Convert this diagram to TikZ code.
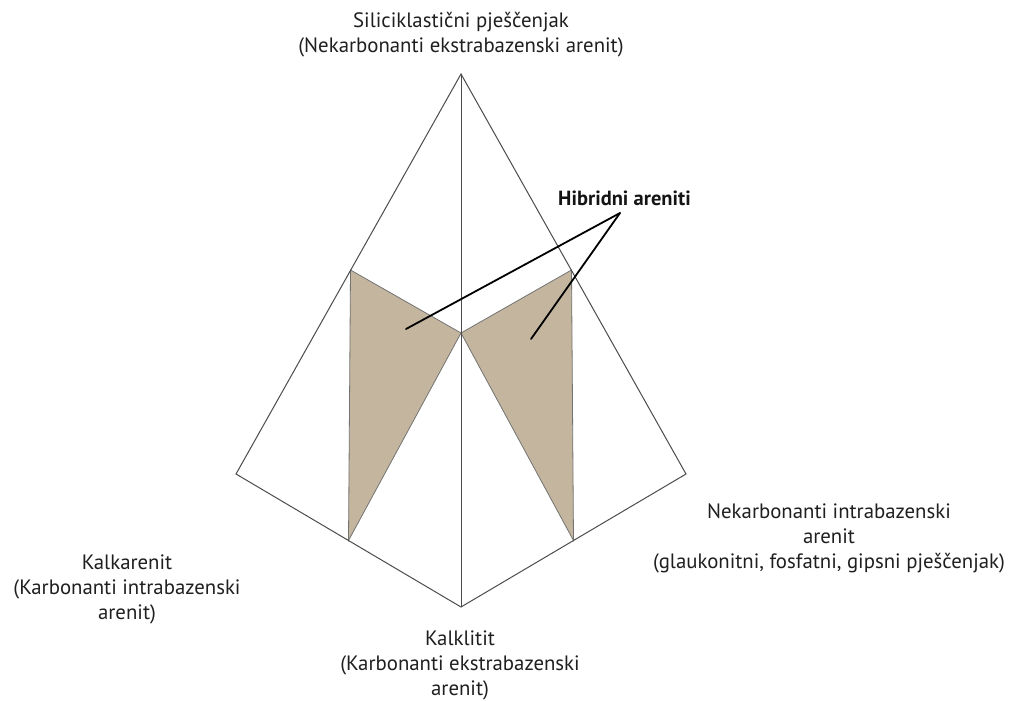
\documentclass[tikz,border=0pt]{standalone}
\usepackage{fontspec}
\setmainfont{PT Sans}
\definecolor{tanfill}{RGB}{196,182,158}
\begin{document}
\begin{tikzpicture}[x=1pt,y=-1pt,
  edge/.style={draw=black!70, line width=1pt},
  shadearea/.style={fill=tanfill, draw=black!55, line width=0.8pt},
  leader/.style={draw=black, line width=1.8pt, line cap=round},
  lbl/.style={font=\fontsize{20.8}{25}\selectfont, align=center, inner sep=0pt, text=black!88},
  hyb/.style={font=\fontsize{20.5}{24}\selectfont\bfseries, inner sep=0pt, text=black!92}]
\useasboundingbox (0,0) rectangle (1012,701);
% vertices
\coordinate (A) at (461,74);
\coordinate (L) at (236,474);
\coordinate (B) at (461,607);
\coordinate (R) at (686,474);
\coordinate (C) at (461,333);
\coordinate (TL) at (350.5,270);
\coordinate (BL) at (348.5,540.5);
\coordinate (TR) at (571.5,270);
\coordinate (BR) at (573.5,540.5);
% shaded hybrid fields
\draw[shadearea] (TL) -- (C) -- (BL) -- cycle;
\draw[shadearea] (TR) -- (C) -- (BR) -- cycle;
% outline
\draw[edge, line join=miter] (A) -- (L) -- (B) -- (R) -- cycle;
\draw[edge] (A) -- (B);
% labels
\node[lbl] (top) at (461,35) {Siliciklastični pješčenjak\\(Nekarbonanti ekstrabazenski arenit)};
\node[lbl] (right) at (829,538) {Nekarbonanti intrabazenski\\arenit\\(glaukonitni, fosfatni, gipsni pješčenjak)};
\node[lbl] (left) at (127,589) {Kalkarenit\\(Karbonanti intrabazenski\\arenit)};
\node[lbl] (bottom) at (460,665) {Kalklitit\\(Karbonanti ekstrabazenski\\arenit)};
\node[hyb, anchor=west] (hyb) at (558,198) {Hibridni areniti};
% leaders
\coordinate (J) at (620,213);
\coordinate (HL) at (406,329);
\coordinate (HR) at (531,339);
\draw[leader] (J) -- (HL);
\draw[leader] (J) -- (HR);
\end{tikzpicture}
\end{document}
